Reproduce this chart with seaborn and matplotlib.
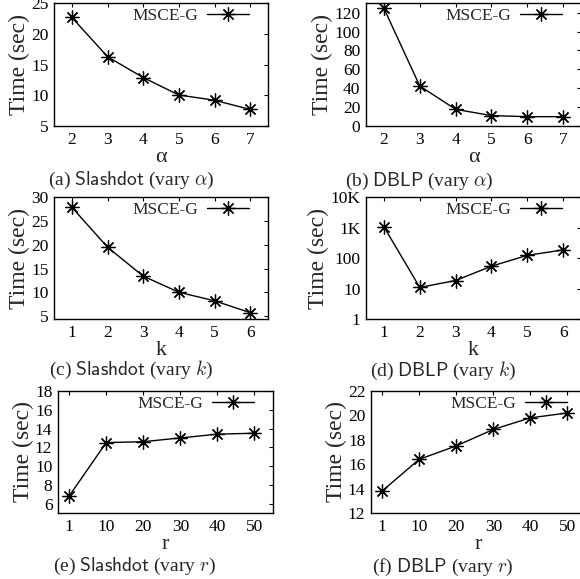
import numpy as np
import pandas as pd
import seaborn as sns
import matplotlib.pyplot as plt

# values
alpha_vals = [2, 3, 4, 5, 6, 7]
k_vals = [1, 2, 3, 4, 5, 6]
r_labels = ['1', '10', '20', '30', '40', '50']

slashdot_alpha = [22.7, 16.3, 12.9, 10.05, 9.2, 7.7]
dblp_alpha = [124.7, 42.4, 17.7, 11.0, 9.9, 9.9]
slashdot_k = [27.9, 19.5, 13.4, 10.0, 8.2, 5.7]
dblp_k = [1080, 11.1, 18.7, 55, 125, 188]
slashdot_r = [6.8, 12.5, 12.6, 13.0, 13.4, 13.5]
dblp_r = [13.8, 16.4, 17.5, 18.85, 19.8, 20.2]

series_name = 'MSCE-G'

sns.set_theme(style='white')
plt.rcParams['font.family'] = ['Liberation Serif', 'DejaVu Serif']
plt.rcParams['mathtext.fontset'] = 'cm'

W, H = 580, 579
fig = plt.figure(figsize=(W / 100, H / 100), dpi=100)


def make_ax(left, right, top, bottom):
    return fig.add_axes([left / W, 1 - bottom / H, (right - left) / W, (bottom - top) / H])


panels = [
    # x, y, xlabel, box, xlim, ylim, yticks, caption, caption_pos
    (alpha_vals, slashdot_alpha, 'α', (54, 268, 3.3, 126), (1.5, 7.5), (5, 25), [5, 10, 15, 20, 25],
     r'(a) $\mathsf{Slashdot}$ (vary $\alpha$)', (48, 180)),
    (alpha_vals, dblp_alpha, 'α', (366, 581, 3.3, 126), (1.5, 7.5), (0, 130), [0, 20, 40, 60, 80, 100, 120],
     r'(b) $\mathsf{DBLP}$ (vary $\alpha$)', (345, 181)),
    (k_vals, slashdot_k, 'k', (54, 268, 197.3, 319.3), (0.5, 6.5), (4.3, 30), [5, 10, 15, 20, 25, 30],
     r'(c) $\mathsf{Slashdot}$ (vary $k$)', (49, 370)),
    (k_vals, dblp_k, 'k', (366, 581, 197.3, 319.3), (0.5, 6.5), (1, 10000), [1, 10, 100, 1000, 10000],
     r'(d) $\mathsf{DBLP}$ (vary $k$)', (370, 371)),
    (r_labels, slashdot_r, 'r', (58, 273, 391, 513), (-0.3, 5.5), (5, 18), [6, 8, 10, 12, 14, 16, 18],
     r'(e) $\mathsf{Slashdot}$ (vary $r$)', (53, 566)),
    (r_labels, dblp_r, 'r', (371, 586, 391, 513), (-0.3, 5.5), (12, 22), [12, 14, 16, 18, 20, 22],
     r'(f) $\mathsf{DBLP}$ (vary $r$)', (372, 567)),
]

for i, (xs, ys, xlab, box, xlim, ylim, yticks, caption, cpos) in enumerate(panels):
    ax = make_ax(*box)
    df = pd.DataFrame({'x': xs, 'y': ys})
    sns.lineplot(data=df, x='x', y='y', ax=ax, color='black', linewidth=1.0,
                 marker=(8, 2, 0), markersize=10, markeredgewidth=0.9,
                 markeredgecolor='black', label=series_name, sort=False)
    if i == 3:
        ax.set_yscale('log')
        ax.minorticks_off()
        ax.set_yticks(yticks)
        ax.set_yticklabels(['1', '10', '100', '1K', '10K'])
    else:
        ax.set_yticks(yticks)
    if isinstance(xs[0], str):
        ax.set_xticks(range(len(xs)))
        ax.set_xticklabels(xs)
    else:
        ax.set_xticks(xs)
    ax.set_xlim(*xlim)
    ax.set_ylim(*ylim)
    ax.tick_params(direction='in', top=True, right=True, length=3, width=0.8,
                   labelsize=12.5, pad=4, colors='black')
    for s in ax.spines.values():
        s.set_color('black')
        s.set_linewidth(1.0)
    ax.set_xlabel(xlab, fontsize=16, labelpad=0)
    ax.set_ylabel('Time (sec)', fontsize=17, labelpad=1)
    ax.legend(loc='upper right', bbox_to_anchor=(0.91, 0.96), frameon=False,
              markerfirst=False, fontsize=12.5, handlelength=2.4, borderpad=0,
              borderaxespad=0, handletextpad=0.5)
    fig.text(cpos[0] / W, 1 - cpos[1] / H, caption, fontsize=14, ha='left', va='center')

fig.savefig('out.png', dpi=100)
